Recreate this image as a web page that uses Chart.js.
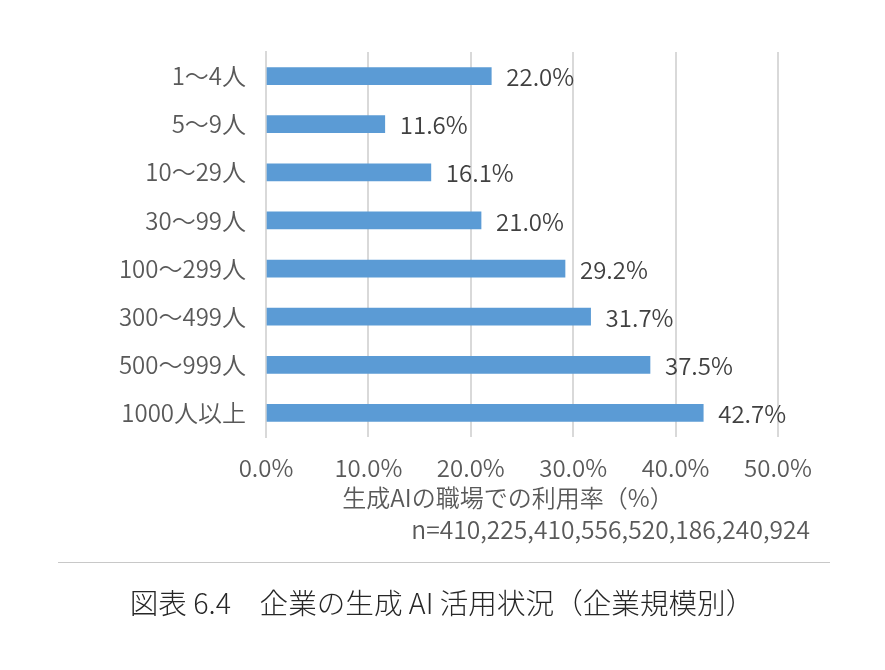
<!DOCTYPE html>
<html>
<head>
<meta charset="utf-8">
<script src="https://cdn.jsdelivr.net/npm/chart.js@4/dist/chart.umd.min.js"></script>
<style>
  html, body { margin: 0; padding: 0; background: #fff; }
  #wrap { width: 885px; height: 670px; position: relative; }
</style>
</head>
<body>
<div id="wrap"><canvas id="chart-usage" width="885" height="670"></canvas></div>
<script>
// 企業規模別カテゴリ
const categories = ['1～4人', '5～9人', '10～29人', '30～99人', '100～299人', '300～499人', '500～999人', '1000人以上'];
// 生成AIの職場での利用率（%）
const usageRates = [22.0, 11.6, 16.1, 21.0, 29.2, 31.7, 37.5, 42.7];
// x軸の目盛
const xTicks = [0, 10, 20, 30, 40, 50];

const axisTitle = '生成AIの職場での利用率（%）';
const sampleNote = 'n=410,225,410,556,520,186,240,924';
const caption = '図表 6.4　企業の生成 AI 活用状況（企業規模別）';

const FONT = '"Noto Sans CJK JP", "Noto Sans", sans-serif';
const TEXT = '#595959';
const W = 350; // 細めのウェイト

// 棒の右側に値ラベル + 軸タイトル・図表キャプション
const labelsPlugin = {
  id: 'extraText',
  afterDatasetsDraw(chart) {
    const ctx = chart.ctx;
    const meta = chart.getDatasetMeta(0);
    ctx.save();
    ctx.font = W + ' 24px ' + FONT;
    ctx.fillStyle = '#404040';
    ctx.textAlign = 'left';
    ctx.textBaseline = 'middle';
    meta.data.forEach((bar, i) => {
      ctx.fillText(usageRates[i].toFixed(1) + '%', bar.x + 15, bar.y + 1);
    });

    const area = chart.chartArea;
    ctx.fillStyle = TEXT;
    ctx.font = W + ' 24px ' + FONT;
    ctx.textAlign = 'center';
    ctx.fillText(axisTitle, (area.left + area.right) / 2 - 14, area.bottom + 61);
    ctx.textAlign = 'right';
    ctx.font = W + ' 24.6px ' + FONT;
    ctx.fillText(sampleNote, area.right + 32, area.bottom + 93);

    // 区切り線
    ctx.strokeStyle = '#c8c8c8';
    ctx.lineWidth = 1;
    ctx.beginPath();
    ctx.moveTo(58, 562.5);
    ctx.lineTo(830, 562.5);
    ctx.stroke();

    ctx.fillStyle = '#262626';
    ctx.font = '300 28.6px ' + FONT;
    ctx.textAlign = 'center';
    ctx.fillText(caption, 442, 603);
    ctx.restore();
  }
};

const ctx = document.getElementById('chart-usage').getContext('2d');
new Chart(ctx, {
  type: 'bar',
  data: {
    labels: categories,
    datasets: [{
      data: usageRates,
      backgroundColor: '#5b9bd5',
      borderWidth: 0,
      barThickness: 17,
    }]
  },
  options: {
    indexAxis: 'y',
    responsive: false,
    animation: false,
    devicePixelRatio: 1,
    layout: { padding: { top: 52, right: 107, left: 0, bottom: 0 } },
    plugins: { legend: { display: false }, tooltip: { enabled: false } },
    scales: {
      x: {
        min: 0, max: 50,
        afterBuildTicks(axis) { axis.ticks = xTicks.map(v => ({ value: v })); },
        afterFit(axis) { axis.height = 670 - 52 - 385; },
        ticks: {
          padding: 16,
          color: TEXT,
          font: { family: FONT, size: 24, weight: W },
          callback: v => v.toFixed(1) + '%'
        },
        grid: { color: '#d9d9d9', lineWidth: 2, drawTicks: false },
        border: { display: false }
      },
      y: {
        afterFit(axis) { axis.width = 266; },
        ticks: {
          padding: 20,
          color: TEXT,
          font: { family: FONT, size: 24, weight: W }
        },
        grid: { display: false, drawTicks: false },
        border: { color: '#d9d9d9', width: 2 }
      }
    }
  },
  plugins: [labelsPlugin]
});
</script>
</body>
</html>
